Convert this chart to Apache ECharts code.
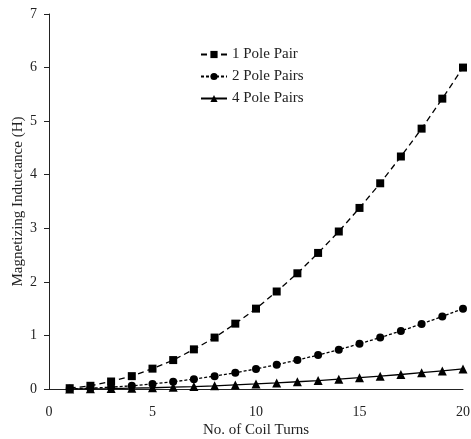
<!DOCTYPE html>
<html>
<head>
<meta charset="utf-8">
<script src="https://cdn.jsdelivr.net/npm/echarts@6/dist/echarts.min.js"></script>
<style>html,body{margin:0;padding:0;background:#fff}#c{width:471px;height:439px}</style>
</head>
<body>
<div id="c"></div>
<script>
const turns = [1,2,3,4,5,6,7,8,9,10,11,12,13,14,15,16,17,18,19,20];
const onePolePair = [0.015,0.06,0.14,0.24,0.38,0.54,0.74,0.96,1.22,1.5,1.82,2.16,2.54,2.94,3.38,3.84,4.34,4.86,5.42,6.0];
const twoPolePairs = [0.004,0.015,0.034,0.06,0.094,0.135,0.184,0.24,0.304,0.375,0.454,0.54,0.634,0.735,0.844,0.96,1.084,1.215,1.354,1.5];
const fourPolePairs = [0.001,0.004,0.008,0.015,0.023,0.034,0.046,0.06,0.076,0.094,0.113,0.135,0.158,0.184,0.211,0.24,0.271,0.304,0.338,0.375];
const seriesNames = ['1 Pole Pair','2 Pole Pairs','4 Pole Pairs'];

const font = 'Liberation Serif';
function pairs(vals){ return turns.map((t,i)=>[t,vals[i]]); }

const chart = echarts.init(document.getElementById('c'), null, {renderer:'canvas'});
chart.setOption({
  animation:false,
  backgroundColor:'#fff',
  textStyle:{fontFamily:font,color:'#222'},
  grid:{left:49,right:8,top:14,bottom:50,containLabel:false,outerBoundsMode:'none'},
  legend:{
    orient:'vertical', left:195, top:42, itemWidth:26, itemHeight:9, itemGap:7,
    textStyle:{fontFamily:font,fontSize:15,color:'#222'},
    data:seriesNames
  },
  xAxis:{
    type:'value', min:0, max:20, interval:5,
    name:'No. of Coil Turns', nameLocation:'middle', nameGap:34, nameMoveOverlap:false,
    nameTextStyle:{fontFamily:font,fontSize:15,color:'#222'},
    axisLine:{lineStyle:{color:'#222',width:1}},
    axisTick:{show:false},
    axisLabel:{fontFamily:font,fontSize:14,color:'#222',margin:16},
    splitLine:{show:false}
  },
  yAxis:{
    type:'value', min:0, max:7, interval:1,
    name:'Magnetizing Inductance (H)', nameLocation:'middle', nameGap:23, nameMoveOverlap:false,
    nameTextStyle:{fontFamily:font,fontSize:15,color:'#222'},
    axisLine:{show:true,lineStyle:{color:'#222',width:1}},
    axisTick:{show:true,length:5,lineStyle:{color:'#222'}},
    axisLabel:{fontFamily:font,fontSize:14,color:'#222',margin:12},
    splitLine:{show:false}
  },
  series:[
    {name:seriesNames[0],type:'line',data:pairs(onePolePair),symbol:'rect',symbolSize:8,
     lineStyle:{color:'#000',width:1.3,type:[6,4]},itemStyle:{color:'#000'}},
    {name:seriesNames[1],type:'line',data:pairs(twoPolePairs),symbol:'circle',symbolSize:8,
     lineStyle:{color:'#000',width:1.3,type:[3,2]},itemStyle:{color:'#000'}},
    {name:seriesNames[2],type:'line',data:pairs(fourPolePairs),symbol:'triangle',symbolSize:9,
     lineStyle:{color:'#000',width:1.3,type:'solid'},itemStyle:{color:'#000'}}
  ]
});
</script>
</body>
</html>
